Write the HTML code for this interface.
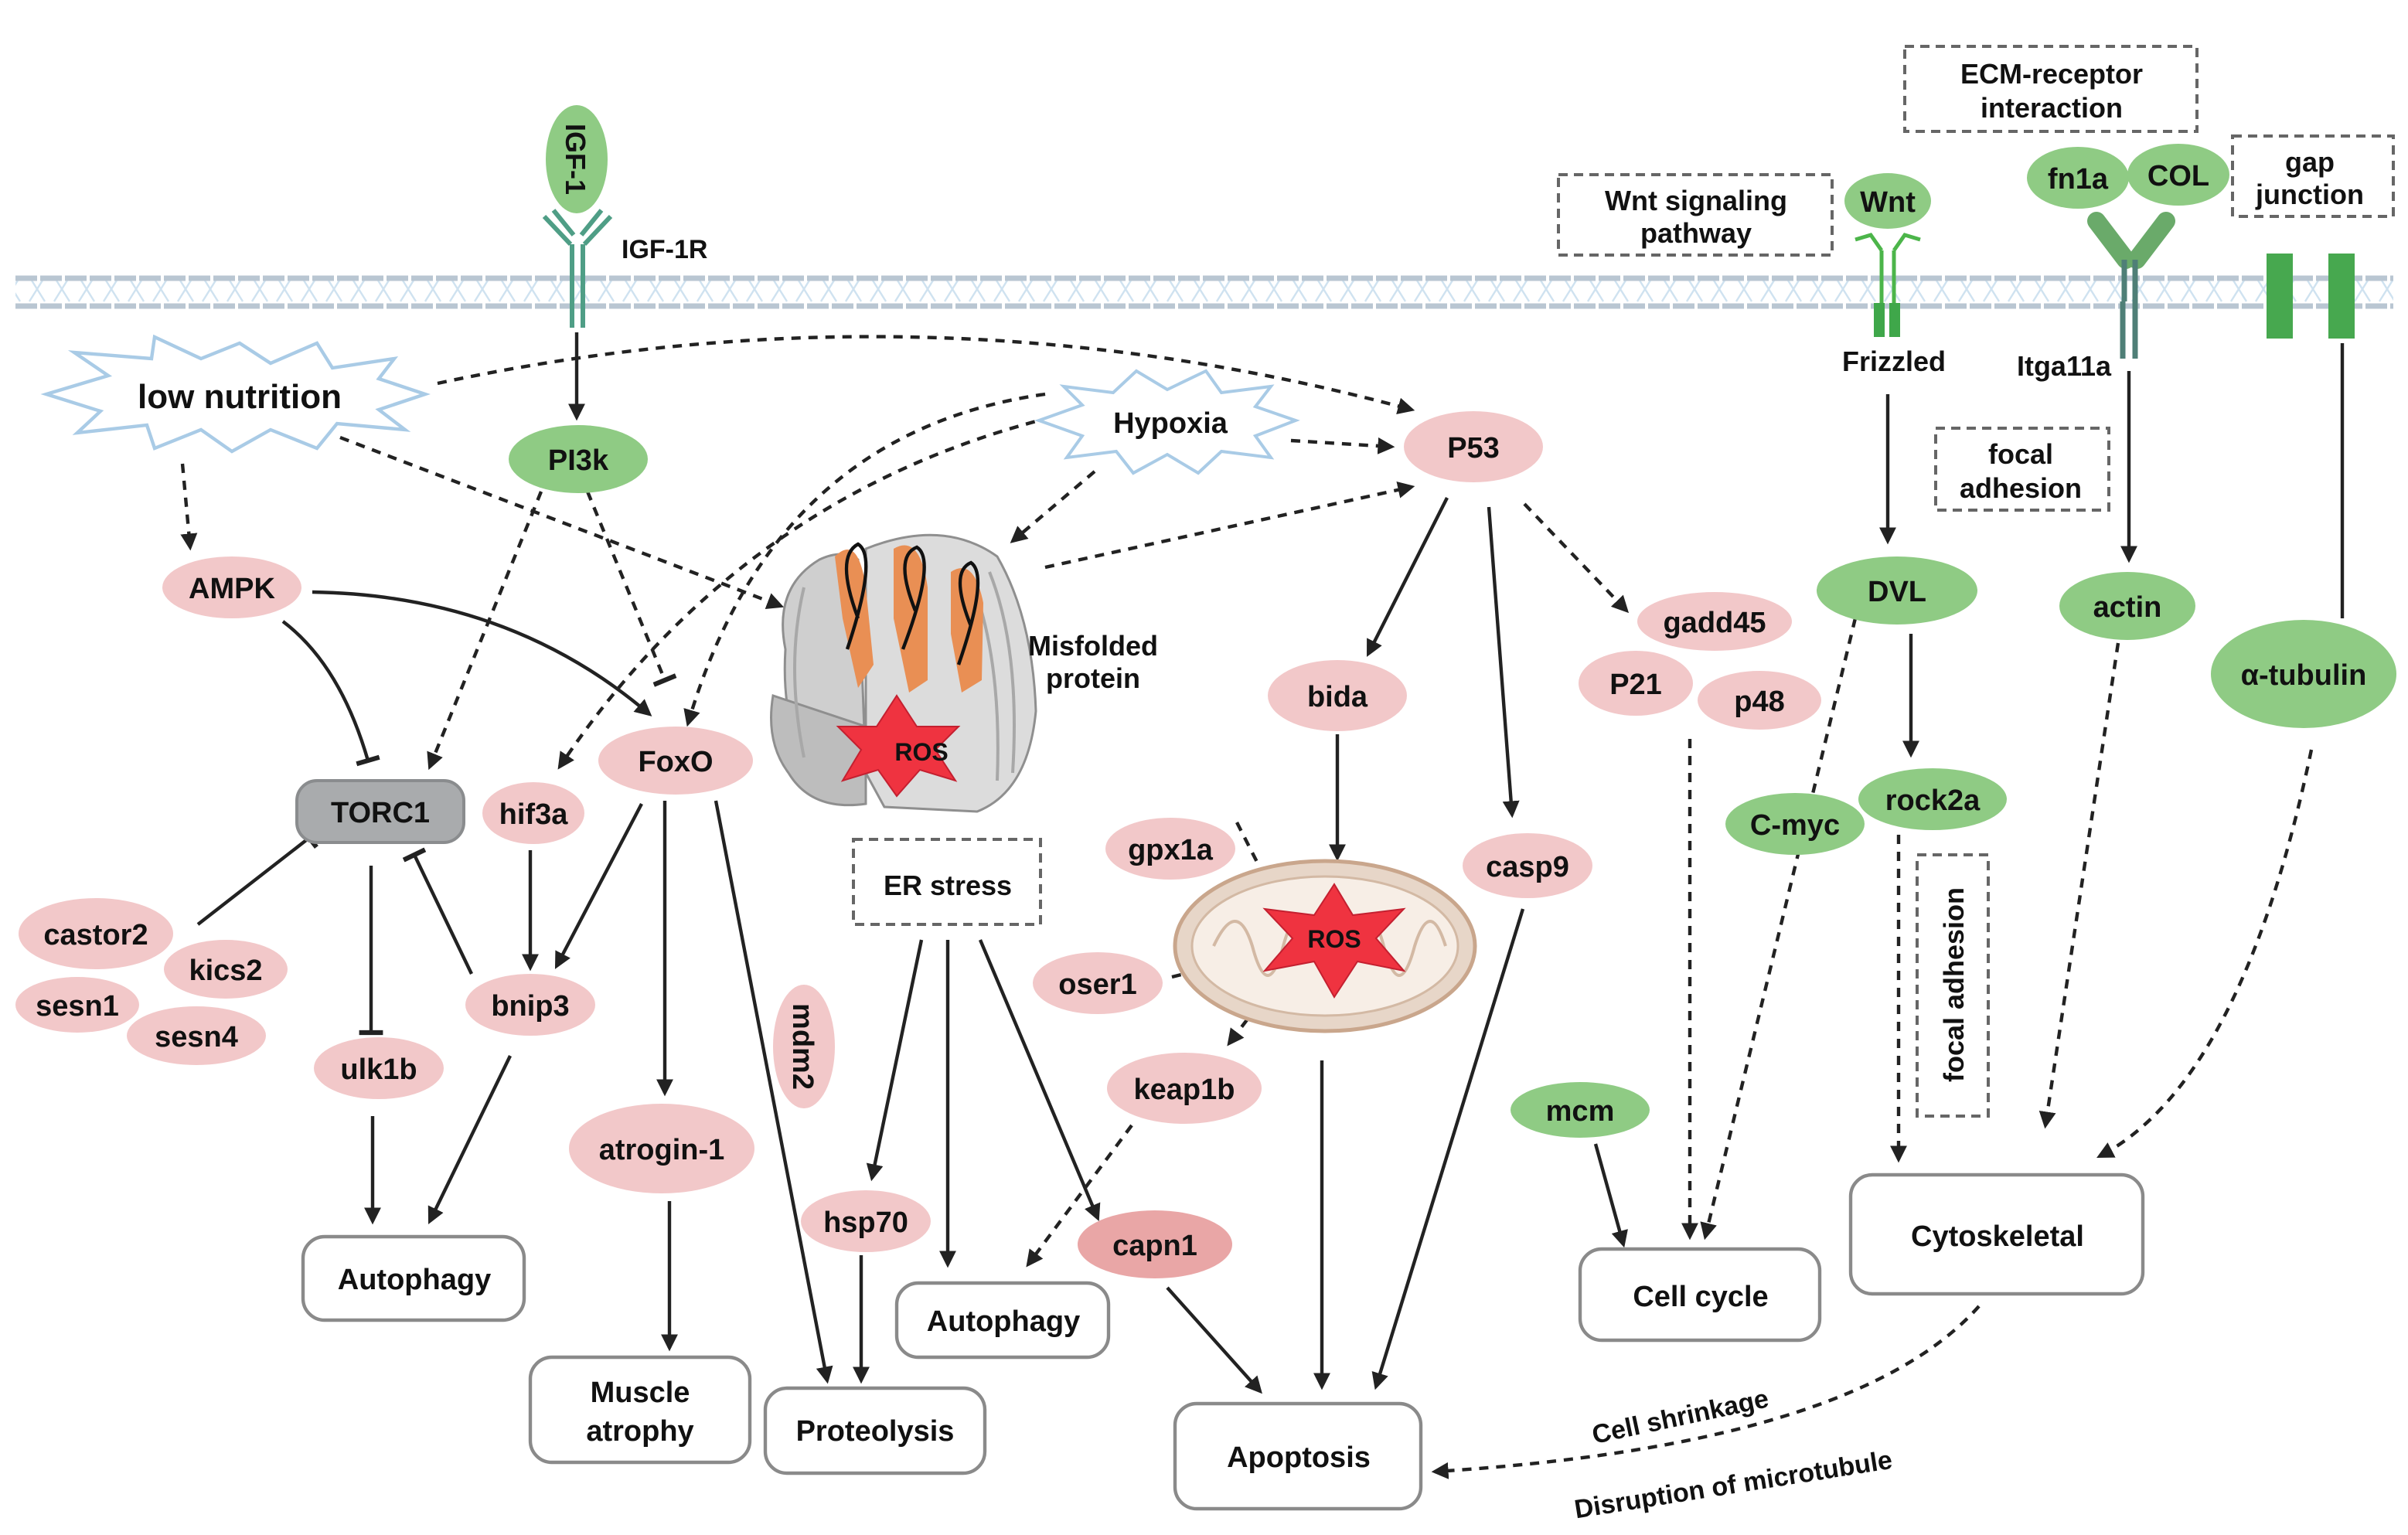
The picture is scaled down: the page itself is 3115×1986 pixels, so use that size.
<!DOCTYPE html>
<html><head><meta charset="utf-8"><style>
html,body{margin:0;padding:0;background:#fff}
svg{display:block}
text{font-family:"Liberation Sans",sans-serif;font-weight:bold;fill:#111}
</style></head><body>
<svg width="3115" height="1986" viewBox="0 0 1557.5 993" xmlns="http://www.w3.org/2000/svg">
<defs>
<marker id="a" viewBox="0 0 10 10" refX="8" refY="5" markerWidth="5" markerHeight="5" orient="auto"><path d="M0,0L10,5L0,10z" fill="#222"/></marker>
<marker id="t" viewBox="0 0 10 10" refX="5" refY="5" markerWidth="7" markerHeight="7" orient="auto"><path d="M5,0V10" stroke="#222" stroke-width="2"/></marker>
<pattern id="mem" width="16" height="22" patternUnits="userSpaceOnUse"><path d="M3,3 L8,11 L3,19 M13,3 L8,11 L13,19" stroke="#cfe2f0" stroke-width="1.2" fill="none"/></pattern>
</defs>
<rect x="10" y="178" width="1538" height="22" fill="url(#mem)"/>
<line x1="10" y1="180" x2="1548" y2="180" stroke="#b9c6d2" stroke-width="3.5" stroke-dasharray="14,2"/>
<line x1="10" y1="198" x2="1548" y2="198" stroke="#b9c6d2" stroke-width="3.5" stroke-dasharray="14,2"/>

<g stroke="#222" stroke-width="2.2" fill="none">
<line x1="373" y1="215" x2="373" y2="270" marker-end="url(#a)"/>
<path d="M202,383 Q330,385 420,462" marker-end="url(#a)"/>
<path d="M183,402 Q220,430 238,492" marker-end="url(#t)"/>
<line x1="128" y1="598" x2="200" y2="542" marker-end="url(#t)"/>
<line x1="240" y1="560" x2="240" y2="668" marker-end="url(#t)"/>
<line x1="305" y1="630" x2="268" y2="553" marker-end="url(#t)"/>
<line x1="343" y1="550" x2="343" y2="626" marker-end="url(#a)"/>
<line x1="415" y1="520" x2="360" y2="625" marker-end="url(#a)"/>
<line x1="430" y1="518" x2="430" y2="707" marker-end="url(#a)"/>
<line x1="463" y1="518" x2="535" y2="893" marker-end="url(#a)"/>
<line x1="241" y1="722" x2="241" y2="790" marker-end="url(#a)"/>
<line x1="330" y1="683" x2="278" y2="790" marker-end="url(#a)"/>
<line x1="433" y1="777" x2="433" y2="872" marker-end="url(#a)"/>
<line x1="557" y1="812" x2="557" y2="893" marker-end="url(#a)"/>
<line x1="596" y1="608" x2="564" y2="762" marker-end="url(#a)"/>
<line x1="613" y1="608" x2="613" y2="818" marker-end="url(#a)"/>
<line x1="634" y1="608" x2="710" y2="788" marker-end="url(#a)"/>
<line x1="755" y1="833" x2="815" y2="900" marker-end="url(#a)"/>
<line x1="855" y1="686" x2="855" y2="897" marker-end="url(#a)"/>
<line x1="985" y1="588" x2="890" y2="897" marker-end="url(#a)"/>
<line x1="936" y1="322" x2="885" y2="423" marker-end="url(#a)"/>
<line x1="865" y1="475" x2="865" y2="555" marker-end="url(#a)"/>
<line x1="963" y1="328" x2="978" y2="527" marker-end="url(#a)"/>
<line x1="1221" y1="255" x2="1221" y2="350" marker-end="url(#a)"/>
<line x1="1236" y1="410" x2="1236" y2="488" marker-end="url(#a)"/>
<line x1="1377" y1="240" x2="1377" y2="362" marker-end="url(#a)"/>
<line x1="1515" y1="222" x2="1515" y2="400"/>
<line x1="1032" y1="740" x2="1050" y2="805" marker-end="url(#a)"/>
</g>
<g stroke="#222" stroke-width="2.2" fill="none" stroke-dasharray="6,5">
<path d="M283,248 Q600,180 913,265" marker-end="url(#a)"/>
<line x1="220" y1="283" x2="505" y2="392" marker-end="url(#a)"/>
<line x1="118" y1="300" x2="123" y2="354" marker-end="url(#a)"/>
<line x1="350" y1="318" x2="278" y2="496" marker-end="url(#a)"/>
<line x1="380" y1="318" x2="430" y2="440" marker-end="url(#t)"/>
<path d="M676,255 Q500,280 445,468" marker-end="url(#a)"/>
<path d="M680,270 Q480,320 362,496" marker-end="url(#a)"/>
<line x1="708" y1="305" x2="655" y2="350" marker-end="url(#a)"/>
<line x1="835" y1="285" x2="900" y2="289" marker-end="url(#a)"/>
<line x1="676" y1="367" x2="913" y2="315" marker-end="url(#a)"/>
<line x1="986" y1="326" x2="1052" y2="395" marker-end="url(#a)"/>
<line x1="1093" y1="478" x2="1093" y2="800" marker-end="url(#a)"/>
<line x1="1200" y1="400" x2="1103" y2="800" marker-end="url(#a)"/>
<line x1="1228" y1="540" x2="1228" y2="750" marker-end="url(#a)"/>
<line x1="1370" y1="416" x2="1323" y2="728" marker-end="url(#a)"/>
<path d="M1495,485 Q1450,700 1358,748" marker-end="url(#a)"/>
<path d="M1280,845 Q1200,935 928,952" marker-end="url(#a)"/>
<line x1="800" y1="532" x2="828" y2="587" marker-end="url(#t)"/>
<line x1="758" y1="632" x2="806" y2="620" marker-end="url(#t)"/>
<line x1="820" y1="642" x2="795" y2="675" marker-end="url(#a)"/>
<line x1="732" y1="728" x2="665" y2="818" marker-end="url(#a)"/>
</g>

<polygon points="30,255 70,243 48,228 98,232 100,218 130,232 155,222 175,235 205,222 215,238 255,232 245,245 275,255 245,265 262,278 218,274 205,290 175,278 150,292 130,278 100,290 95,275 50,280 65,266" fill="#fff" stroke="#a9cbe6" stroke-width="2.2"/>
<text x="155" y="264" font-size="22" text-anchor="middle">low nutrition</text>
<polygon points="672,272 700,262 688,250 720,254 735,240 755,252 780,240 790,254 822,250 812,263 838,272 812,282 822,296 790,292 775,306 755,294 733,306 722,292 690,296 700,282" fill="#fff" stroke="#a9cbe6" stroke-width="2"/>
<text x="757" y="280" font-size="19" text-anchor="middle">Hypoxia</text>

<g stroke="#4f9e86" stroke-width="3" fill="none">
<line x1="370" y1="158" x2="370" y2="212"/><line x1="377" y1="158" x2="377" y2="212"/>
<line x1="352" y1="140" x2="369" y2="158"/><line x1="358" y1="136" x2="371" y2="152"/>
<line x1="395" y1="140" x2="378" y2="158"/><line x1="389" y1="136" x2="376" y2="152"/>
</g>
<ellipse cx="373" cy="103" rx="20" ry="35" fill="#8fcb84"/>
<text transform="translate(366,103) rotate(90)" font-size="18" text-anchor="middle">IGF-1</text>
<text x="402" y="167" font-size="17">IGF-1R</text>

<g stroke="#4cb54a" stroke-width="2.5" fill="none">
<line x1="1217" y1="162" x2="1217" y2="200"/><line x1="1225" y1="162" x2="1225" y2="200"/>
<path d="M1200,155 L1210,152 L1217,162" /><path d="M1242,155 L1232,152 L1225,162"/>
</g>
<rect x="1212" y="196" width="7" height="22" fill="#3fa74a"/><rect x="1222" y="196" width="7" height="22" fill="#3fa74a"/>
<g stroke="#4f7f77" stroke-width="3.5"><line x1="1373" y1="195" x2="1373" y2="232"/><line x1="1381" y1="195" x2="1381" y2="232"/></g>
<line x1="1356" y1="143" x2="1375" y2="168" stroke="#6aaa6a" stroke-width="12" stroke-linecap="round"/>
<line x1="1401" y1="143" x2="1382" y2="168" stroke="#6aaa6a" stroke-width="12" stroke-linecap="round"/>
<g stroke="#4f7f77" stroke-width="3.5"><line x1="1374" y1="168" x2="1374" y2="195"/><line x1="1381" y1="168" x2="1381" y2="195"/></g>
<rect x="1466" y="164" width="17" height="55" fill="#47a84f"/><rect x="1506" y="164" width="17" height="55" fill="#47a84f"/>

<!-- ER organelle -->
<g fill="#cfcfcf" stroke="#8f8f8f" stroke-width="1.5">
<path d="M508,420 Q500,380 530,362 Q545,355 555,362 L560,500 Q545,520 525,500 Q505,470 508,420 Z"/>
<path d="M500,450 Q495,480 510,500 Q525,525 560,520 L560,470Z" fill="#bdbdbd"/>
<path d="M560,355 Q610,335 645,360 Q668,400 670,460 Q665,512 632,525 L572,522 L560,500Z" fill="#dcdcdc"/>
</g>
<g stroke="#a8a8a8" stroke-width="2" fill="none">
<path d="M640,370 Q660,420 655,500"/><path d="M630,380 Q648,430 645,505"/><path d="M520,380 Q508,430 520,490"/>
</g>
<path d="M540,360 Q555,345 560,380 L565,430 L555,445 L545,400Z M578,355 Q595,345 600,380 L600,440 L588,448 L578,400Z M615,370 Q630,360 636,390 L635,440 L622,448 L615,410Z" fill="#e98f54"/>
<g stroke="#111" stroke-width="2.2" fill="none">
<path d="M555,400 Q540,360 555,352 Q568,360 548,420"/><path d="M592,395 Q578,360 593,354 Q606,362 584,420"/><path d="M628,405 Q614,370 628,364 Q640,372 620,430"/>
</g>
<polygon points="580,450 593,470 620,470 605,485 618,505 595,498 580,515 568,498 545,505 557,485 542,470 567,470" fill="#ef3340" stroke="#c42030" stroke-width="1"/>
<text x="596" y="492" font-size="16" text-anchor="middle">ROS</text>
<text x="707" y="424" font-size="18" text-anchor="middle">Misfolded</text>
<text x="707" y="445" font-size="18" text-anchor="middle">protein</text>

<ellipse cx="857" cy="612" rx="97" ry="55" fill="#e7d6c8" stroke="#c9a68c" stroke-width="2.5"/>
<ellipse cx="857" cy="612" rx="86" ry="45" fill="#f7eee6" stroke="#d3b9a4" stroke-width="1.5"/>
<path d="M785,612 Q800,580 810,612 Q820,650 830,612 Q840,575 852,612 Q865,650 875,612 Q885,575 895,612 Q905,650 915,612 Q925,580 935,612" stroke="#d3b9a4" stroke-width="2" fill="none"/>
<polygon points="863,572 875,592 908,588 890,607 908,628 878,622 863,645 850,622 818,628 836,607 818,588 850,592" fill="#ef3340" stroke="#c42030"/>
<text x="863" y="613" font-size="16" text-anchor="middle">ROS</text>

<g fill="#fff" stroke="#666" stroke-width="2" stroke-dasharray="6,4">
<rect x="1008" y="113" width="177" height="52"/>
<rect x="1232" y="30" width="189" height="55"/>
<rect x="1444" y="88" width="104" height="52"/>
<rect x="1252" y="277" width="112" height="53"/>
<rect x="552" y="543" width="121" height="55"/>
<rect x="1240" y="553" width="46" height="169"/>
</g>
<g font-size="18" text-anchor="middle">
<text x="1097" y="136">Wnt signaling</text><text x="1097" y="157">pathway</text>
<text x="1327" y="54">ECM-receptor</text><text x="1327" y="76">interaction</text>
<text x="1494" y="111">gap</text><text x="1494" y="132">junction</text>
<text x="1307" y="300">focal</text><text x="1307" y="322">adhesion</text>
<text x="613" y="579">ER stress</text>
<text transform="translate(1270,637) rotate(-90)">focal  adhesion</text>
<text x="1225" y="240">Frizzled</text>
<text x="1335" y="243">Itga11a</text>
</g>

<g fill="#f2c8c9">
<ellipse cx="150" cy="380" rx="45" ry="20"/>
<ellipse cx="345" cy="526" rx="33" ry="20"/>
<ellipse cx="437" cy="492" rx="50" ry="22"/>
<ellipse cx="62" cy="604" rx="50" ry="23"/>
<ellipse cx="146" cy="627" rx="40" ry="19"/>
<ellipse cx="50" cy="650" rx="40" ry="18"/>
<ellipse cx="127" cy="670" rx="45" ry="19"/>
<ellipse cx="343" cy="650" rx="42" ry="20"/>
<ellipse cx="245" cy="691" rx="42" ry="20"/>
<ellipse cx="428" cy="743" rx="60" ry="29"/>
<ellipse cx="520" cy="677" rx="20" ry="40"/>
<ellipse cx="560" cy="790" rx="42" ry="20"/>
<ellipse cx="757" cy="549" rx="42" ry="20"/>
<ellipse cx="710" cy="636" rx="42" ry="20"/>
<ellipse cx="766" cy="704" rx="50" ry="23"/>
<ellipse cx="865" cy="450" rx="45" ry="23"/>
<ellipse cx="953" cy="289" rx="45" ry="23"/>
<ellipse cx="988" cy="560" rx="42" ry="21"/>
<ellipse cx="1109" cy="402" rx="50" ry="19"/>
<ellipse cx="1058" cy="442" rx="37" ry="21"/>
<ellipse cx="1138" cy="453" rx="40" ry="19"/>
<ellipse cx="747" cy="805" rx="50" ry="22" fill="#e9a6a6"/>
</g>
<g fill="#8fcb84">
<ellipse cx="374" cy="297" rx="45" ry="22"/>
<ellipse cx="1221" cy="130" rx="28" ry="18"/>
<ellipse cx="1227" cy="382" rx="52" ry="22"/>
<ellipse cx="1250" cy="517" rx="48" ry="20"/>
<ellipse cx="1161" cy="533" rx="45" ry="20"/>
<ellipse cx="1344" cy="115" rx="33" ry="20"/>
<ellipse cx="1409" cy="113" rx="33" ry="20"/>
<ellipse cx="1376" cy="392" rx="44" ry="22"/>
<ellipse cx="1490" cy="436" rx="60" ry="35"/>
<ellipse cx="1022" cy="718" rx="45" ry="18"/>
</g>
<rect x="192" y="505" width="108" height="40" rx="13" fill="#a9abad" stroke="#8a8c8e" stroke-width="2"/>
<g fill="#fff" stroke="#8a8a8a" stroke-width="2.2">
<rect x="196" y="800" width="143" height="54" rx="14"/>
<rect x="343" y="878" width="142" height="68" rx="14"/>
<rect x="495" y="898" width="142" height="55" rx="14"/>
<rect x="580" y="830" width="137" height="48" rx="14"/>
<rect x="760" y="908" width="159" height="68" rx="14"/>
<rect x="1022" y="808" width="155" height="59" rx="14"/>
<rect x="1197" y="760" width="189" height="77" rx="14"/>
</g>
<g font-size="19" text-anchor="middle">
<text x="150" y="387">AMPK</text>
<text x="374" y="304">PI3k</text>
<text x="246" y="532">TORC1</text>
<text x="345" y="533">hif3a</text>
<text x="437" y="499">FoxO</text>
<text x="62" y="611">castor2</text>
<text x="146" y="634">kics2</text>
<text x="50" y="657">sesn1</text>
<text x="127" y="677">sesn4</text>
<text x="343" y="657">bnip3</text>
<text x="245" y="698">ulk1b</text>
<text x="428" y="750">atrogin-1</text>
<text transform="translate(513,677) rotate(90)">mdm2</text>
<text x="560" y="797">hsp70</text>
<text x="747" y="812">capn1</text>
<text x="757" y="556">gpx1a</text>
<text x="710" y="643">oser1</text>
<text x="766" y="711">keap1b</text>
<text x="865" y="457">bida</text>
<text x="953" y="296">P53</text>
<text x="988" y="567">casp9</text>
<text x="1109" y="409">gadd45</text>
<text x="1058" y="449">P21</text>
<text x="1138" y="460">p48</text>
<text x="1221" y="137">Wnt</text>
<text x="1227" y="389">DVL</text>
<text x="1250" y="524">rock2a</text>
<text x="1161" y="540">C-myc</text>
<text x="1344" y="122">fn1a</text>
<text x="1409" y="120">COL</text>
<text x="1376" y="399">actin</text>
<text x="1490" y="443">α-tubulin</text>
<text x="1022" y="725">mcm</text>
<text x="268" y="834">Autophagy</text>
<text x="414" y="907">Muscle</text>
<text x="414" y="932">atrophy</text>
<text x="566" y="932">Proteolysis</text>
<text x="649" y="861">Autophagy</text>
<text x="840" y="949">Apoptosis</text>
<text x="1100" y="845">Cell cycle</text>
<text x="1292" y="806">Cytoskeletal</text>
</g>
<g font-size="17" text-anchor="middle">
<text transform="translate(1088,922) rotate(-12)">Cell shrinkage</text>
<text transform="translate(1122,966) rotate(-9)">Disruption of microtubule</text>
</g>
</svg>
</body></html>
